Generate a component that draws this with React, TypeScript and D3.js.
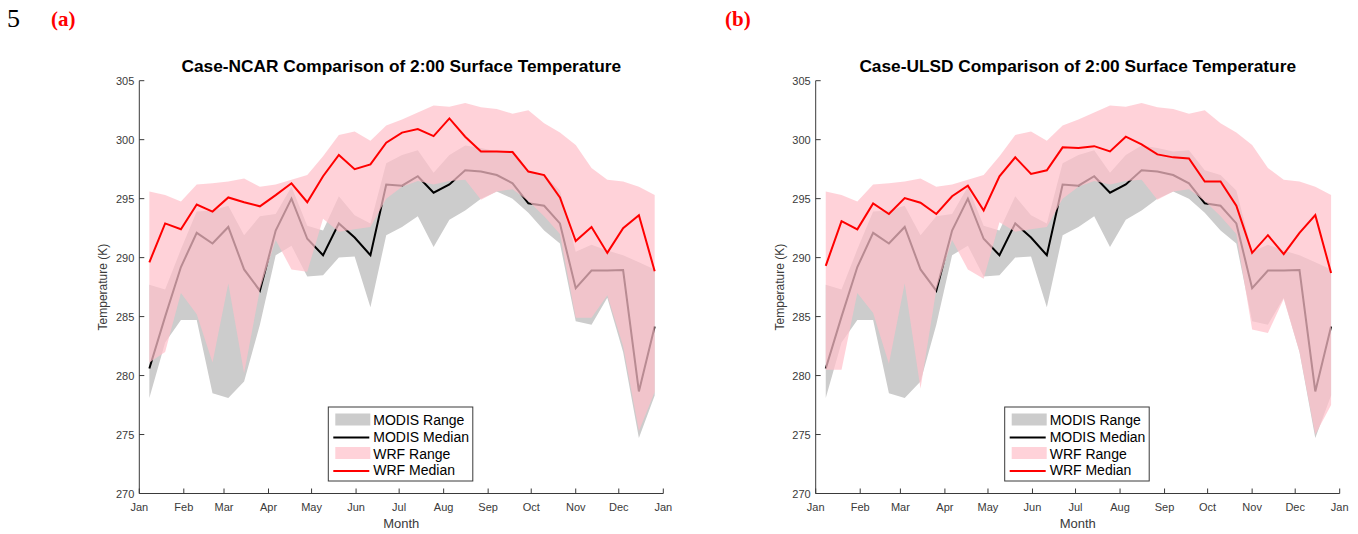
import React from 'react';
import * as d3 from 'd3';

// ---------- data ----------
const monthLabels = ['Jan', 'Feb', 'Mar', 'Apr', 'May', 'Jun', 'Jul', 'Aug', 'Sep', 'Oct', 'Nov', 'Dec', 'Jan'];
const yTicks = [270, 275, 280, 285, 290, 295, 300, 305];
// day of year of each sample
const sampleDays = [7, 18, 29, 40, 51, 62, 73, 84, 95, 106, 117, 128, 139, 150, 161, 172, 183, 194, 205, 216, 227, 238, 249, 260, 271, 282, 293, 304, 315, 326, 337, 348, 359];

const modisMedian = [280.6, 285.0, 289.2, 292.1, 291.2, 292.6, 289.0, 287.2, 292.3, 295.0, 291.6, 290.2, 292.9, 291.7, 290.2, 296.2, 296.1, 296.9, 295.5, 296.2, 297.4, 297.3, 297.0, 296.3, 294.6, 294.4, 292.9, 287.4, 288.9, 288.9, 288.95, 278.65, 284.15];
const modisMax = [287.7, 287.3, 290.7, 293.9, 294.0, 294.4, 291.9, 293.5, 293.7, 296.0, 292.7, 292.3, 295.2, 293.6, 292.9, 298.0, 298.7, 299.1, 297.2, 298.7, 299.5, 299.3, 299.0, 299.1, 297.4, 297.0, 295.7, 290.5, 291.1, 290.6, 290.2, 289.6, 289.0];
const modisMin = [278.1, 282.8, 284.7, 284.7, 278.5, 278.1, 279.5, 284.3, 290.2, 291.0, 288.4, 288.5, 290.0, 290.1, 285.8, 291.9, 292.6, 293.5, 290.9, 293.2, 294.0, 295.0, 295.6, 295.0, 293.8, 292.3, 291.2, 284.6, 284.3, 286.6, 282.0, 274.7, 278.3];

const ncarMedian = [289.6, 292.9, 292.4, 294.5, 293.9, 295.1, 294.7, 294.35, 295.3, 296.3, 294.7, 296.9, 298.7, 297.5, 297.9, 299.75, 300.6, 300.9, 300.3, 301.8, 300.25, 299.0, 299.0, 298.95, 297.3, 297.0, 295.1, 291.4, 292.6, 290.4, 292.5, 293.6, 288.85];
const ncarMax = [295.6, 295.3, 294.75, 296.2, 296.3, 296.45, 296.7, 296.0, 296.2, 296.6, 297.0, 298.6, 300.4, 300.7, 299.9, 301.2, 301.7, 302.3, 302.9, 302.8, 303.1, 302.75, 302.6, 302.2, 302.5, 301.4, 300.6, 299.55, 297.6, 296.6, 296.45, 296.0, 295.3];
const ncarMin = [281.1, 282.0, 287.0, 285.2, 281.1, 287.8, 280.2, 287.3, 291.5, 289.0, 288.8, 293.3, 292.2, 292.4, 292.6, 295.0, 296.0, 296.5, 296.2, 296.5, 296.6, 294.9, 295.6, 295.8, 294.8, 293.5, 292.0, 284.9, 284.9, 286.8, 282.5, 275.3, 278.6];

const ulsdMedian = [289.3, 293.1, 292.4, 294.6, 293.7, 295.05, 294.65, 293.7, 295.2, 296.1, 294.0, 296.9, 298.5, 297.1, 297.4, 299.35, 299.3, 299.45, 299.0, 300.25, 299.6, 298.75, 298.5, 298.4, 296.45, 296.45, 294.4, 290.4, 291.9, 290.3, 292.1, 293.6, 288.7];
const ulsdMax = [295.6, 295.3, 294.75, 296.2, 296.3, 296.45, 296.7, 296.0, 296.2, 296.6, 297.0, 298.6, 300.4, 300.7, 299.9, 301.2, 301.7, 302.3, 302.9, 302.8, 303.1, 302.75, 302.6, 302.2, 302.5, 301.4, 300.6, 299.55, 297.6, 296.6, 296.45, 296.0, 295.3];
const ulsdMin = [280.5, 280.5, 287.0, 285.3, 281.0, 287.8, 278.9, 287.3, 291.5, 289.0, 288.2, 293.0, 292.2, 292.4, 292.6, 295.0, 296.0, 296.5, 296.2, 296.5, 296.6, 294.9, 295.6, 295.8, 294.8, 293.5, 292.0, 283.9, 283.6, 286.5, 282.0, 275.0, 277.5];

const legendLabels = ['MODIS Range', 'MODIS Median', 'WRF Range', 'WRF Median'];

// ---------- styling ----------
const AX = '#3a3a3a';
const FONT = 'Liberation Sans, Arial, Helvetica, sans-serif';
const GRAY = '#cccccc';
const PINK = 'rgb(255,192,203)';
const PINK_ALPHA = 0.72;

type PanelProps = {
  left: number;
  title: string;
  wrfMedian: number[];
  wrfMin: number[];
  wrfMax: number[];
};

function Panel({ left, title, wrfMedian, wrfMin, wrfMax }: PanelProps) {
  const width = 524;
  const top = 80.7;
  const bottom = 493.5;
  const x = d3.scaleTime().domain([new Date(2015, 0, 1), new Date(2016, 0, 1)]).range([left, left + width]);
  const y = d3.scaleLinear().domain([270, 305]).range([bottom, top]);
  const dates = sampleDays.map((d) => new Date(2015, 0, 1 + d));
  const idx = d3.range(sampleDays.length);

  const area = (lo: number[], hi: number[]) =>
    d3.area<number>().x((i) => x(dates[i])).y0((i) => y(lo[i])).y1((i) => y(hi[i]))(idx) || '';
  const line = (v: number[]) => d3.line<number>().x((i) => x(dates[i])).y((i) => y(v[i]))(idx) || '';

  const monthTicks = d3.timeMonth.range(new Date(2015, 0, 1), new Date(2016, 0, 2));

  const lgX = left + 189;
  const lgY = 407;
  const rowH = 16.8;

  return (
    <g>
      <path d={area(modisMin, modisMax)} fill={GRAY} stroke="none" />
      <path d={line(modisMedian)} fill="none" stroke="#000" strokeWidth={2} strokeLinejoin="miter" />
      <path d={area(wrfMin, wrfMax)} fill={PINK} fillOpacity={PINK_ALPHA} stroke="none" />
      <path d={line(wrfMedian)} fill="none" stroke="#ff0000" strokeWidth={2} strokeLinejoin="miter" />

      {/* axes */}
      <line x1={left} x2={left + width} y1={bottom} y2={bottom} stroke={AX} strokeWidth={1} />
      <line x1={left} x2={left} y1={top} y2={bottom} stroke={AX} strokeWidth={1} />
      {monthTicks.map((d, i) => (
        <g key={'mt' + i}>
          <line x1={x(d)} x2={x(d)} y1={bottom} y2={bottom - 5} stroke={AX} />
          <text x={x(d)} y={511} textAnchor="middle" fontSize={11} fill={AX} fontFamily={FONT}>
            {monthLabels[i]}
          </text>
        </g>
      ))}
      {yTicks.map((t) => (
        <g key={'yt' + t}>
          <line x1={left} x2={left + 5} y1={y(t)} y2={y(t)} stroke={AX} />
          <text x={left - 5} y={y(t) + 4} textAnchor="end" fontSize={11} fill={AX} fontFamily={FONT}>
            {t}
          </text>
        </g>
      ))}
      <text x={left + width / 2} y={528} textAnchor="middle" fontSize={13} fill={AX} fontFamily={FONT}>
        Month
      </text>
      <text
        transform={`translate(${left - 32},${(top + bottom) / 2}) rotate(-90)`}
        textAnchor="middle"
        fontSize={12}
        fill={AX}
        fontFamily={FONT}
      >
        Temperature (K)
      </text>
      <text x={left + width / 2} y={72} textAnchor="middle" fontSize={17.3} fontWeight="bold" fill="#000" fontFamily={FONT}>
        {title}
      </text>

      {/* legend */}
      <rect x={lgX} y={lgY} width={144.5} height={74} fill="#fff" stroke={AX} strokeWidth={1} />
      <rect x={lgX + 7} y={lgY + 6.5} width={35} height={12} fill={GRAY} />
      <line x1={lgX + 5} x2={lgX + 41} y1={lgY + 30.5} y2={lgY + 30.5} stroke="#000" strokeWidth={2} />
      <rect x={lgX + 7} y={lgY + 40} width={35} height={12} fill={PINK} fillOpacity={PINK_ALPHA} />
      <line x1={lgX + 5} x2={lgX + 41} y1={lgY + 64} y2={lgY + 64} stroke="#ff0000" strokeWidth={2} />
      {legendLabels.map((l, i) => (
        <text key={l} x={lgX + 45} y={lgY + 18 + i * rowH} fontSize={14} fill="#000" fontFamily={FONT}>
          {l}
        </text>
      ))}
    </g>
  );
}

export default function App() {
  return (
    <svg
      width={1358}
      height={534}
      style={{ position: 'absolute', left: 0, top: 0, background: '#fff' }}
      xmlns="http://www.w3.org/2000/svg"
    >
      <rect x={0} y={0} width={1358} height={534} fill="#fff" />
      <text x={7} y={27} fontSize={26} fontFamily="Liberation Serif, Times New Roman, serif" fill="#000">
        5
      </text>
      <text x={51} y={26} fontSize={21} fontWeight="bold" fontFamily="Liberation Serif, Times New Roman, serif" fill="#ff0000">
        (a)
      </text>
      <text x={725} y={26} fontSize={21} fontWeight="bold" fontFamily="Liberation Serif, Times New Roman, serif" fill="#ff0000">
        (b)
      </text>
      <Panel left={139.3} title="Case-NCAR Comparison of 2:00 Surface Temperature" wrfMedian={ncarMedian} wrfMin={ncarMin} wrfMax={ncarMax} />
      <Panel left={815.7} title="Case-ULSD Comparison of 2:00 Surface Temperature" wrfMedian={ulsdMedian} wrfMin={ulsdMin} wrfMax={ulsdMax} />
    </svg>
  );
}
